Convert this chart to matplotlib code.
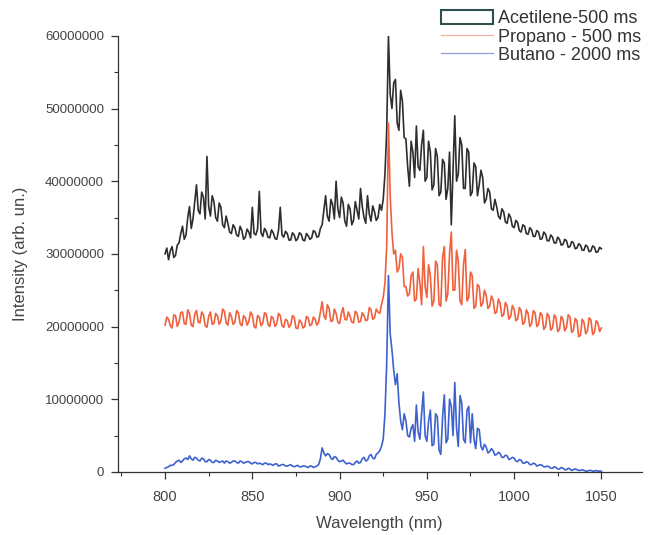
import numpy as np
import matplotlib
matplotlib.use("Agg")
import matplotlib.pyplot as plt
from matplotlib.patches import Patch
from matplotlib.lines import Line2D
from matplotlib.ticker import MultipleLocator

plt.rcParams['font.family'] = ['Liberation Sans', 'DejaVu Sans']

# wavelength grid (nm), 1 nm steps; intensities, in millions
wavelength = np.arange(800, 1051, 1)

acetilene = [
    30.0, 30.8, 29.2, 30.4, 31.0, 29.5, 29.8, 31.2, 31.5, 32.8,   # 800
    33.8, 32.0, 32.6, 35.0, 36.5, 33.5, 34.8, 37.2, 39.5, 36.0,   # 810
    35.5, 38.5, 37.8, 34.8, 43.4, 36.5, 35.2, 38.0, 37.2, 35.0,   # 820
    34.5, 37.0, 36.4, 34.0, 33.6, 35.2, 34.2, 33.0, 32.8, 34.0,   # 830
    33.6, 32.6, 32.4, 33.8, 33.2, 32.0, 32.3, 33.4, 33.0, 32.2,   # 840
    36.4, 32.8, 32.6, 33.4, 38.6, 32.9, 32.4, 33.5, 33.1, 32.3,   # 850
    32.2, 33.3, 32.9, 32.1, 32.0, 33.2, 36.4, 32.6, 32.3, 33.1,   # 860
    32.8, 31.9, 31.9, 32.9, 32.6, 31.8, 32.1, 32.9, 32.7, 31.9,   # 870
    31.8, 32.8, 32.5, 32.0, 32.2, 33.2, 33.0, 32.3, 32.4, 33.5,   # 880
    34.0, 36.0, 38.0, 35.2, 34.5, 37.5, 36.8, 34.8, 40.0, 36.2,   # 890
    35.0, 37.8, 37.0, 34.5, 33.8, 36.8, 36.2, 34.0, 34.6, 37.2,   # 900
    36.0, 34.8, 39.0, 36.5, 35.0, 34.2, 38.0, 35.5, 34.5, 36.6,   # 910
    35.8, 34.6, 35.0, 36.8, 36.0, 37.5, 41.0, 47.0, 60.0, 52.0,   # 920
    50.0, 53.5, 54.0, 48.0, 47.0, 52.5, 51.0, 46.0, 45.8, 42.0,   # 930
    39.3, 45.5, 44.0, 40.5, 47.6, 42.0, 41.5, 45.0, 47.0, 40.0,   # 940
    40.5, 45.5, 44.0, 38.8, 39.5, 44.5, 43.4, 38.0, 38.5, 43.0,   # 950
    42.5, 37.5, 39.0, 44.0, 34.0, 41.5, 49.0, 40.0, 41.0, 46.0,   # 960
    45.0, 39.0, 39.0, 44.5, 44.0, 38.0, 38.5, 42.5, 42.0, 38.0,   # 970
    39.5, 41.5, 40.5, 37.0, 37.5, 39.0, 38.5, 36.2, 36.0, 37.5,   # 980
    36.5, 35.2, 34.8, 36.2, 35.8, 34.4, 34.2, 35.5, 35.0, 33.8,   # 990
    33.6, 34.6, 34.3, 33.2, 33.0, 34.0, 33.8, 32.8, 32.7, 33.6,   # 1000
    33.3, 32.4, 32.4, 33.2, 33.0, 32.0, 32.1, 33.0, 32.7, 31.8,   # 1010
    31.8, 32.6, 32.3, 31.5, 31.5, 32.3, 32.0, 31.2, 31.3, 32.0,   # 1020
    31.8, 30.9, 31.0, 31.7, 31.5, 30.7, 30.8, 31.4, 31.2, 30.5,   # 1030
    30.5, 31.2, 31.0, 30.3, 30.4, 31.1, 30.9, 30.2, 30.3, 30.9,   # 1040
    30.7,
]

propano = [
    20.2, 21.3, 21.0, 20.1, 19.8, 21.6, 21.5, 20.0, 20.6, 21.9,   # 800
    22.0, 20.4, 20.3, 22.3, 21.8, 20.2, 20.0, 21.7, 22.2, 20.6,   # 810
    20.5, 22.0, 21.6, 20.1, 19.9, 21.4, 22.0, 20.3, 20.4, 21.8,   # 820
    21.5, 20.3, 20.8, 22.4, 22.1, 20.5, 20.2, 21.9, 21.4, 20.3,   # 830
    20.6, 22.2, 21.9, 20.4, 20.1, 21.5, 21.2, 20.2, 20.7, 22.0,   # 840
    21.6, 20.0, 19.8, 21.5, 21.3, 20.1, 20.5, 21.9, 21.7, 20.3,   # 850
    20.0, 21.4, 21.1, 20.0, 20.4, 21.8, 21.5, 20.1, 19.9, 21.0,   # 860
    20.8, 19.9, 20.2, 21.5, 21.3, 19.8, 19.7, 20.9, 20.6, 19.8,   # 870
    20.0, 21.4, 21.2, 20.1, 20.3, 21.3, 21.0, 20.2, 20.6, 22.0,   # 880
    23.4, 21.5, 21.0, 23.0, 22.5, 20.7, 20.8, 22.4, 21.8, 20.6,   # 890
    20.4, 21.8, 22.6, 21.0, 20.9, 22.0, 21.4, 20.6, 20.5, 22.1,   # 900
    21.8, 20.6, 20.7, 21.9, 21.5, 20.8, 20.9, 22.6, 22.3, 21.0,   # 910
    21.2, 22.4, 22.0, 21.8, 23.0, 24.0, 26.0, 31.0, 48.0, 38.0,   # 920
    33.0, 30.0, 30.5, 27.5, 28.0, 30.0, 29.5, 25.5, 25.5, 24.2,   # 930
    24.5, 27.0, 27.5, 23.5, 23.8, 28.0, 26.0, 23.0, 31.0, 25.5,   # 940
    24.0, 28.5, 27.0, 22.8, 23.5, 29.0, 28.5, 23.0, 22.8, 29.5,   # 950
    31.0, 23.5, 24.5, 30.0, 33.0, 25.0, 25.0, 30.5, 29.0, 23.5,   # 960
    23.0, 28.5, 30.6, 23.5, 24.0, 27.5, 27.0, 22.5, 22.8, 25.8,   # 970
    25.5, 22.8, 23.2, 25.0, 24.3, 22.5, 22.8, 24.2, 23.6, 21.8,   # 980
    22.0, 23.8, 23.2, 21.4, 21.6, 23.3, 22.8, 21.0, 21.4, 22.9,   # 990
    22.4, 20.8, 21.0, 22.6, 22.2, 20.3, 20.6, 22.3, 21.8, 20.0,   # 1000
    20.4, 22.2, 21.9, 20.0, 20.3, 21.9, 21.6, 19.6, 20.0, 21.8,   # 1010
    21.4, 19.5, 19.8, 21.6, 21.2, 19.3, 19.6, 21.4, 21.0, 19.4,   # 1020
    19.9, 21.6, 21.3, 19.2, 19.5, 21.1, 20.8, 18.6, 18.8, 21.0,   # 1030
    20.6, 19.0, 19.4, 21.2, 20.9, 18.9, 19.2, 20.8, 20.5, 19.3,   # 1040
    19.8,
]

butano = [
    0.5, 0.6, 0.7, 0.9, 0.9, 1.0, 1.3, 1.5, 1.6, 1.3,   # 800
    1.5, 1.8, 1.9, 1.7, 2.2, 1.8, 1.6, 2.0, 1.9, 1.6,   # 810
    1.5, 1.9, 1.8, 1.4, 1.4, 1.7, 1.6, 1.3, 1.3, 1.6,   # 820
    1.5, 1.3, 1.4, 1.5, 1.2, 1.5, 1.4, 1.2, 1.3, 1.5,   # 830
    1.5, 1.3, 1.2, 1.5, 1.4, 1.2, 1.3, 1.4, 1.4, 1.2,   # 840
    1.1, 1.3, 1.3, 1.1, 1.2, 1.1, 1.0, 1.2, 1.2, 1.0,   # 850
    1.1, 1.0, 0.9, 1.1, 1.1, 0.8, 0.9, 1.0, 1.0, 0.8,   # 860
    0.8, 0.9, 1.0, 0.8, 0.7, 0.8, 0.9, 0.7, 0.7, 0.8,   # 870
    0.8, 0.7, 0.6, 0.8, 0.8, 0.6, 0.7, 0.8, 1.0, 1.8,   # 880
    3.3, 2.6, 2.2, 2.5, 2.4, 1.9, 1.7, 2.1, 2.0, 1.6,   # 890
    1.4, 1.5, 1.6, 1.3, 1.1, 1.2, 1.2, 1.0, 1.0, 1.3,   # 900
    1.5, 1.2, 1.3, 1.8, 2.0, 1.5, 1.6, 2.2, 2.4, 1.9,   # 910
    1.8, 2.4, 2.6, 2.9, 3.5, 4.5, 8.0, 15.0, 27.0, 19.0,   # 920
    16.8, 14.0, 12.0, 13.5, 9.5, 7.0, 5.8, 8.0, 7.0, 5.0,   # 930
    4.8, 6.0, 6.5, 4.2, 9.2, 5.5, 4.5, 8.0, 11.0, 5.0,   # 940
    4.2, 7.0, 8.5, 3.6, 3.8, 8.0, 7.6, 3.0, 2.4, 7.5,   # 950
    10.6, 4.0, 4.5, 10.0, 9.0, 5.0, 12.3, 6.0, 3.5, 10.5,   # 960
    9.5, 4.5, 4.0, 8.5, 9.0, 4.0, 8.0, 4.5, 3.2, 6.0,   # 970
    5.8, 3.5, 3.0, 3.8, 3.4, 2.6, 2.8, 3.2, 2.9, 2.3,   # 980
    2.4, 2.7, 2.5, 2.0, 2.0, 2.3, 2.2, 1.7, 1.8, 2.0,   # 990
    1.9, 1.5, 1.4, 1.7, 1.6, 1.2, 1.2, 1.4, 1.3, 1.0,   # 1000
    1.0, 1.2, 1.1, 0.8, 0.9, 1.0, 0.9, 0.7, 0.7, 0.8,   # 1010
    0.7, 0.5, 0.5, 0.7, 0.6, 0.4, 0.4, 0.6, 0.5, 0.3,   # 1020
    0.3, 0.5, 0.4, 0.2, 0.3, 0.4, 0.3, 0.2, 0.2, 0.3,   # 1030
    0.2, 0.1, 0.1, 0.2, 0.2, 0.1, 0.1, 0.2, 0.1, 0.1,   # 1040
    0.1,
]

labels = ["Acetilene-500 ms", "Propano - 500 ms", "Butano - 2000 ms"]
colors = ["#2e2e2e", "#f0603c", "#3d62d0"]

fig = plt.figure(figsize=(6.48, 5.35), dpi=100)
ax = fig.add_axes([0.182, 0.118, 0.808, 0.815])

for vals, c in zip([acetilene, propano, butano], colors):
    ax.plot(wavelength, np.array(vals) * 1e6, color=c, lw=1.2)

ax.set_xlim(773, 1073)
ax.set_ylim(0, 60000000)
ax.xaxis.set_major_locator(MultipleLocator(50))
ax.xaxis.set_minor_locator(MultipleLocator(25))
ax.yaxis.set_major_locator(MultipleLocator(10000000))
ax.yaxis.set_minor_locator(MultipleLocator(5000000))
ax.ticklabel_format(axis='y', style='plain', useOffset=False)
ax.tick_params(which='major', direction='out', length=5, width=0.9, colors='#333333')
ax.tick_params(which='minor', direction='out', length=3, width=0.8, colors='#333333')
ax.tick_params(axis='y', labelsize=9.5, labelcolor='#444444', pad=5)
ax.tick_params(axis='x', labelsize=10.5, labelcolor='#444444', pad=8)
for s in ['top', 'right']:
    ax.spines[s].set_visible(False)
for s in ['left', 'bottom']:
    ax.spines[s].set_color('#333333')
    ax.spines[s].set_linewidth(0.9)

ax.set_xlabel("Wavelength (nm)", fontsize=12, color='#444444', labelpad=9)
ax.set_ylabel("Intensity (arb. un.)", fontsize=12, color='#444444', labelpad=12)

handles = [
    Patch(facecolor='white', edgecolor='#2f4f4f', lw=1.5),
    Line2D([], [], color='#f5b0a0', lw=0.9),
    Line2D([], [], color='#8fa0d8', lw=0.9),
]
fig.legend(handles, labels, loc='upper right', bbox_to_anchor=(1.015, 1.012),
           frameon=False, fontsize=13, handlelength=2.9, handleheight=0.85,
           labelspacing=0.05, handletextpad=0.3, labelcolor='#333333')

fig.savefig("out.png", dpi=100)
